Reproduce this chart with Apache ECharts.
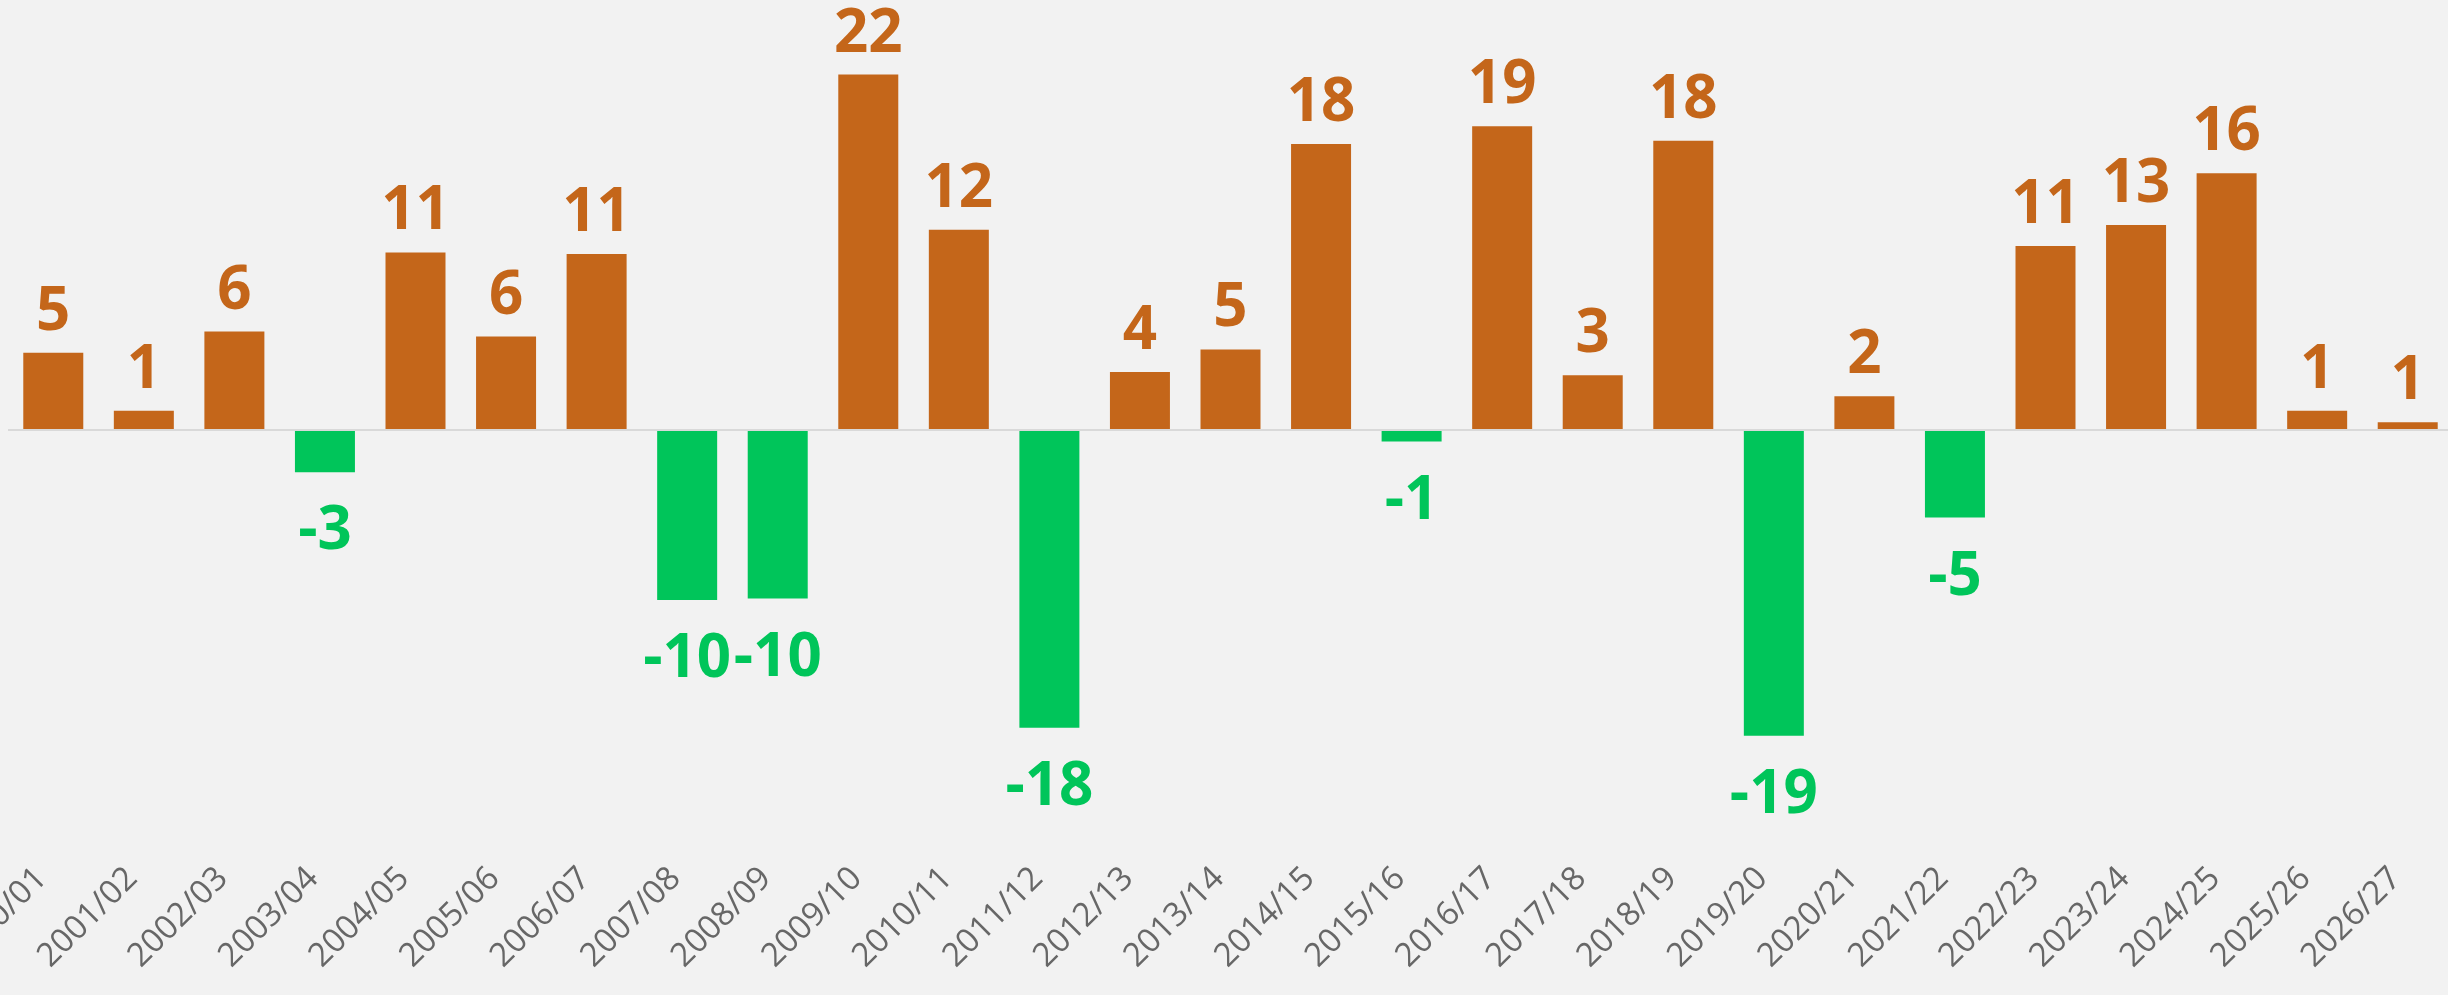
<!DOCTYPE html>
<html>
<head>
<meta charset="utf-8">
<title>Chart</title>
<script src="https://cdn.jsdelivr.net/npm/echarts@6/dist/echarts.min.js"></script>
<style>
  html, body { margin: 0; padding: 0; background: #f2f2f2; }
  #bar-chart { width: 2448px; height: 995px; }
</style>
</head>
<body>
<div id="bar-chart"></div>
<script>
// seasons on the x axis
var categories = ['2000/01', '2001/02', '2002/03', '2003/04', '2004/05', '2005/06', '2006/07',
    '2007/08', '2008/09', '2009/10', '2010/11', '2011/12', '2012/13', '2013/14', '2014/15',
    '2015/16', '2016/17', '2017/18', '2018/19', '2019/20', '2020/21', '2021/22', '2022/23',
    '2023/24', '2024/25', '2025/26', '2026/27'];

// bar values (labels show them rounded)
var values = [4.8, 1.2, 6.1, -2.6, 11.0, 5.8, 10.9, -10.5, -10.4, 22.0, 12.4, -18.4, 3.6, 5.0,
    17.7, -0.7, 18.8, 3.4, 17.9, -18.9, 2.1, -5.4, 11.4, 12.7, 15.9, 1.2, 0.5];

var ORANGE = '#c4661a';
var GREEN = '#00c55a';

var chart = echarts.init(document.getElementById('bar-chart'));

var barData = values.map(function(v) {
    var neg = v < 0;
    return {
        value: v,
        itemStyle: { color: neg ? GREEN : ORANGE },
        label: {
            position: neg ? 'bottom' : 'top',
            distance: neg ? 30 : 10,
            color: neg ? GREEN : ORANGE
        }
    };
});

chart.setOption({
    backgroundColor: '#f2f2f2',
    animation: false,
    grid: { left: 8, top: 26, width: 2445, height: 857, outerBoundsMode: 'none', containLabel: false },
    xAxis: {
        type: 'category',
        data: categories,
        axisLine: { show: false },
        axisTick: { show: false },
        axisLabel: {
            interval: 0,
            rotate: 45,
            margin: 2,
            verticalAlign: 'bottom',
            color: '#676767',
            fontSize: 33,
            fontFamily: 'Open Sans'
        }
    },
    yAxis: {
        type: 'value',
        min: -28,
        max: 25,
        show: false,
        splitLine: { show: false }
    },
    series: [{
        type: 'bar',
        barWidth: 60,
        data: barData,
        label: {
            show: true,
            fontSize: 60,
            fontWeight: 'bold',
            fontFamily: 'Open Sans',
            formatter: function(p) { return Math.round(p.value); }
        },
        markLine: {
            silent: true,
            symbol: 'none',
            label: { show: false },
            lineStyle: { color: '#d9d9d9', width: 2, type: 'solid' },
            data: [{ yAxis: 0 }]
        }
    }]
});
</script>
</body>
</html>
